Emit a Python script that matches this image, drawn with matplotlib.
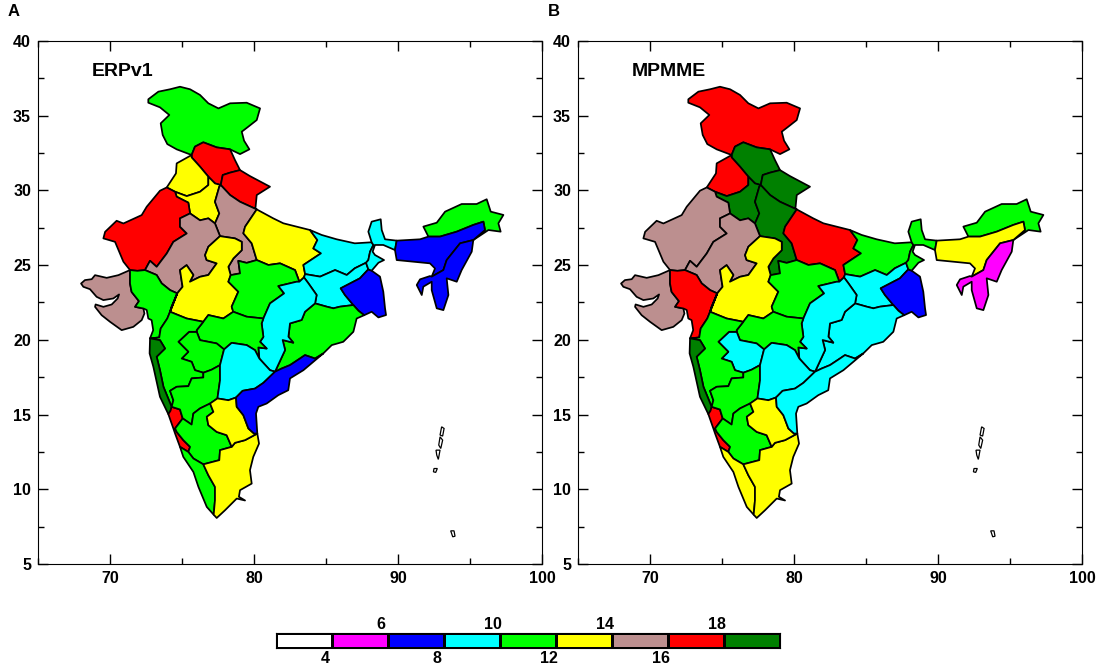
import matplotlib
matplotlib.use("Agg")
import matplotlib.pyplot as plt
from matplotlib.collections import PolyCollection
from matplotlib.colors import BoundaryNorm, ListedColormap
from matplotlib.ticker import MultipleLocator

plt.rcParams['font.family'] = ['Liberation Sans', 'DejaVu Sans']

# colour scale
levels = [2, 4, 6, 8, 10, 12, 14, 16, 18, 20]
colors = ['#ffffff', '#ff00ff', '#0000ff', '#00ffff', '#00ff00',
          '#ffff00', '#bc8f8f', '#ff0000', '#008000']

# borders between the subdivisions, (lon, lat)
jk_outer = [(75.67, 32.37), (74.63, 32.75), (73.98, 33.10), (73.66, 33.71), (73.52, 34.49), (74.12, 35.05),
            (73.47, 35.56), (72.66, 35.87), (72.66, 36.10), (73.36, 36.61), (74.17, 36.77), (74.86, 36.94),
            (75.56, 36.77), (76.25, 36.39), (76.83, 35.83), (77.53, 35.49), (78.34, 35.83), (79.49, 35.87),
            (80.42, 35.49), (80.19, 34.71), (79.61, 34.27), (79.15, 33.93), (79.31, 33.33), (79.68, 32.75),
            (79.03, 32.43), (78.34, 32.75)]
jk_hp = [(78.34, 32.75), (77.41, 32.88), (76.48, 33.22), (75.90, 32.93), (75.67, 32.37)]
hp_east = [(78.34, 32.75), (78.68, 32.03), (79.03, 31.36)]
hp_uk = [(79.03, 31.36), (78.34, 31.19), (77.83, 31.03), (77.69, 30.36)]
hp_hcd = [(77.69, 30.36), (77.29, 30.47), (76.83, 30.92)]
hp_pb = [(76.83, 30.92), (76.25, 31.59), (75.67, 32.21), (75.67, 32.37)]
pb_west = [(75.67, 32.37), (74.63, 31.81), (74.58, 31.14), (73.94, 30.20)]
pb_wrj = [(73.94, 30.20), (74.52, 29.91)]
pb_hcd = [(74.52, 29.91), (75.33, 29.62), (76.25, 29.91), (76.83, 30.36), (76.83, 30.92)]
uk_outer = [(79.03, 31.36), (79.72, 30.96), (81.11, 30.25), (80.19, 29.69), (80.10, 28.80), (80.19, 28.73)]
uk_wup = [(77.69, 30.36), (78.34, 29.69), (79.03, 29.24), (80.19, 28.73)]
hcd_wup = [(77.69, 30.36), (77.59, 30.25), (77.29, 29.24), (77.59, 28.46), (77.29, 27.79)]
wrj_hcd = [(75.56, 28.46), (75.44, 29.18), (74.63, 29.58), (74.52, 29.91)]
hcd_erj = [(75.56, 28.46), (76.25, 28.0), (76.83, 28.13), (77.29, 27.79)]
wrj_outer = [(73.94, 30.20), (73.47, 29.98), (72.55, 28.91), (72.20, 28.35), (70.93, 27.79), (70.46, 27.97),
             (69.66, 27.23), (69.54, 26.79), (70.35, 26.56), (70.93, 25.23), (71.39, 24.67)]
wrj_gjr = [(71.39, 24.67), (71.90, 24.62), (72.43, 24.67)]
wrj_erj = [(72.43, 24.67), (72.78, 25.29), (73.24, 24.89), (73.94, 25.78), (74.40, 26.56), (75.33, 27.12),
           (74.86, 27.57), (74.86, 28.13), (75.56, 28.46)]
wup_erj = [(77.29, 27.79), (77.47, 27.35), (77.64, 26.94)]
wup_wmp = [(77.64, 26.94), (78.68, 26.79), (79.15, 26.56), (79.15, 26.0), (78.57, 25.45), (78.22, 24.89),
           (78.38, 24.33)]
wup_emp = [(78.38, 24.33), (79.03, 24.45), (78.91, 25.29), (79.49, 25.15), (80.19, 25.34)]
wup_eup = [(80.19, 28.73), (79.38, 27.57), (79.26, 27.13), (79.84, 26.46), (80.19, 25.34)]
erj_wmp = [(77.64, 26.94), (76.83, 26.23), (76.60, 25.67), (76.71, 25.34), (77.41, 25.12), (76.83, 24.34),
           (76.25, 24.22), (75.55, 23.89), (75.79, 24.34), (75.32, 25.0), (74.86, 24.67), (75.04, 23.55),
           (74.67, 23.11)]
erj_gjr = [(72.43, 24.67), (73.24, 24.34), (73.59, 23.78), (74.17, 23.33), (74.67, 23.11)]
sk_outer = [(71.39, 24.67), (70.58, 24.33), (69.77, 24.15), (68.96, 24.33), (68.73, 24.06), (68.26, 24.0),
            (67.99, 23.77), (68.15, 23.55), (68.61, 23.39), (69.07, 22.88), (69.54, 22.66), (70.23, 22.77),
            (70.63, 23.04), (70.53, 22.77), (70.12, 22.37), (69.54, 22.21), (69.0, 22.37), (68.96, 22.21),
            (69.42, 21.65), (70.0, 21.21), (70.81, 20.65), (71.62, 20.87), (72.2, 21.32), (72.39, 21.76),
            (72.32, 22.10)]
sk_gjr = [(72.32, 22.10), (71.74, 22.21), (72.01, 22.59), (71.5, 23.21), (71.39, 23.77), (71.39, 24.67)]
gjr_coast = [(72.32, 22.10), (72.55, 22.0), (72.66, 21.43), (72.89, 21.32), (73.0, 20.65), (72.78, 20.10)]
gjr_wmp = [(74.67, 23.11), (74.28, 22.22), (74.17, 21.88)]
gjr_mar = [(74.17, 21.88), (73.98, 21.43), (73.52, 20.76), (73.42, 20.16), (72.78, 20.10)]
wmp_mar = [(74.17, 21.88), (75.32, 21.43), (76.48, 21.21)]
wmp_vid = [(76.48, 21.21), (76.83, 21.66), (77.87, 21.43), (78.56, 21.88)]
wmp_emp = [(78.56, 21.88), (78.45, 22.22), (78.91, 23.22), (78.22, 23.89), (78.38, 24.33)]
emp_vid = [(78.56, 21.88), (79.49, 21.55), (80.65, 21.43)]
emp_chh = [(80.65, 21.43), (81.11, 22.44), (82.09, 23.11), (81.69, 23.6), (82.96, 23.89), (83.15, 23.89)]
eup_nepal = [(80.19, 28.73), (81.34, 28.13), (82.04, 27.80), (83.89, 27.35)]
eup_bih = [(83.89, 27.35), (84.40, 26.68), (84.12, 26.12), (84.65, 25.79), (83.43, 25.01), (83.55, 24.4)]
eup_jh = [(83.55, 24.4), (83.47, 24.18)]
eup_chh = [(83.47, 24.18), (83.15, 23.89)]
eup_emp = [(83.15, 23.89), (82.85, 24.67), (81.81, 25.12), (81.0, 25.01), (80.19, 25.34)]
jh_chh = [(83.47, 24.18), (83.78, 23.78), (84.35, 23.0), (84.24, 22.44)]
chh_odi = [(84.24, 22.44), (83.54, 21.88), (83.31, 21.33), (82.50, 21.10), (82.39, 20.21), (82.73, 19.81),
           (81.99, 19.99), (82.16, 19.32), (81.46, 17.87)]
odi_cap = [(81.46, 17.87), (81.92, 18.08), (82.5, 18.31), (83.19, 18.75), (83.54, 18.98), (84.24, 18.75),
           (84.81, 19.09)]
odi_coast = [(84.81, 19.09), (85.4, 19.65), (86.2, 19.87), (86.9, 20.54), (87.13, 21.43), (87.65, 21.65)]
cap_coast = [(84.81, 19.09), (84.12, 18.53), (83.43, 17.97), (82.5, 17.42), (82.38, 16.63), (81.69, 16.3),
             (80.88, 15.74), (80.30, 15.52), (80.14, 15.07), (80.23, 13.73)]
cap_tel = [(81.46, 17.87), (80.65, 17.12), (80.07, 16.74), (79.21, 16.59), (78.75, 16.14)]
rys_cap = [(78.75, 16.14), (78.8, 15.52), (79.26, 14.96), (79.61, 14.07), (80.0, 13.73), (80.23, 13.73)]
vid_chh = [(80.65, 21.43), (80.53, 21.10), (80.65, 20.20), (80.42, 19.87), (80.88, 19.42), (80.3, 19.49),
           (80.37, 18.75)]
chh_tel = [(80.37, 18.75), (81.11, 17.97), (81.46, 17.87)]
vid_tel = [(80.37, 18.75), (80.07, 19.31), (79.49, 19.65), (78.45, 19.80), (77.92, 19.36)]
tel_mrw = [(77.92, 19.36), (77.64, 18.31)]
tel_nik = [(77.64, 18.31), (77.64, 17.30), (77.46, 16.08)]
tel_rys = [(77.46, 16.08), (78.22, 15.96), (78.75, 16.14)]
vid_mrw = [(77.92, 19.36), (77.41, 19.76), (76.83, 19.87), (76.25, 19.98), (76.02, 20.54)]
vid_mar = [(76.02, 20.54), (76.02, 20.65), (76.48, 21.21)]
mrw_mar = [(76.02, 20.54), (75.49, 20.54), (74.75, 19.87), (75.44, 19.2), (74.98, 18.75), (75.67, 18.53),
           (75.9, 17.97), (76.48, 17.8)]
mrw_nik = [(76.48, 17.8), (77.05, 18.0), (77.64, 18.31)]
mar_nik = [(76.48, 17.8), (76.48, 17.48), (75.67, 17.42), (75.44, 16.9), (74.63, 16.86), (74.17, 16.59),
           (74.40, 15.96), (74.28, 15.52)]
kon_mar = [(72.78, 20.10), (73.47, 19.98), (73.82, 19.42), (73.24, 18.87), (73.47, 17.97), (73.71, 16.86),
           (74.28, 15.52)]
kon_coast = [(72.78, 20.10), (72.75, 19.09), (73.01, 18.2), (73.47, 16.19), (74.05, 15.03)]
kon_ck = [(74.28, 15.52), (74.2, 15.25), (74.05, 15.03)]
ck_nik = [(74.28, 15.52), (74.86, 15.34), (75.05, 14.74)]
ck_sik = [(75.05, 14.74), (74.52, 14.07), (74.63, 13.84), (75.09, 13.29), (75.56, 12.84), (75.44, 12.50)]
ck_coast = [(74.05, 15.03), (74.4, 14.07), (74.52, 13.73), (74.86, 12.84)]
ck_ker = [(74.86, 12.84), (75.44, 12.50)]
ker_sik = [(75.44, 12.50), (75.79, 12.06), (76.48, 11.67)]
ker_coast = [(74.86, 12.84), (75.09, 12.17), (75.79, 11.16), (76.14, 10.16), (76.72, 8.82), (77.2, 8.3)]
ker_tn = [(76.48, 11.67), (76.83, 10.94), (77.29, 10.16), (77.29, 9.27), (77.2, 8.3)]
tn_coast = [(77.2, 8.3), (77.41, 8.08), (77.99, 8.6), (78.8, 9.38), (79.38, 9.25), (78.95, 9.5), (79.03, 9.94),
            (79.84, 10.38), (79.72, 11.28), (79.95, 12.17), (80.35, 13.06), (80.23, 13.73)]
tn_sik = [(76.48, 11.67), (77.59, 11.95), (77.64, 12.62), (78.45, 12.84)]
tn_rys = [(78.45, 12.84), (78.68, 13.11), (79.38, 13.29), (80.23, 13.73)]
nik_rys = [(77.46, 16.08), (76.95, 15.74)]
nik_sik = [(76.95, 15.74), (76.25, 15.41), (75.79, 15.07), (75.67, 14.33), (75.05, 14.74)]
sik_rys = [(76.95, 15.74), (77.18, 15.18), (76.72, 14.85), (76.83, 14.29), (77.41, 13.84), (78.1, 13.62),
           (78.45, 12.84)]
bih_north = [(83.89, 27.35), (84.7, 27.02), (85.74, 26.73), (87.0, 26.46), (88.17, 26.53)]
bih_shwb = [(88.17, 26.53), (88.29, 26.35), (88.06, 25.9), (87.94, 25.34), (87.78, 25.16)]
bih_jh = [(83.55, 24.4), (84.59, 24.23), (85.63, 24.67), (86.44, 24.34), (87.0, 24.79), (87.78, 25.16)]
jh_shwb = [(87.78, 25.16), (87.94, 24.72)]
jh_gwb = [(87.94, 24.72), (87.36, 24.12), (86.02, 23.45), (86.32, 23.0), (86.9, 22.33)]
odi_jh = [(84.24, 22.44), (85.05, 22.22), (85.51, 22.11), (85.97, 22.22), (86.9, 22.33)]
odi_gwb = [(86.9, 22.33), (87.25, 21.95), (87.65, 21.65)]
gwb_outer = [(87.65, 21.65), (88.17, 21.88), (88.64, 21.5), (89.17, 21.66), (89.1, 22.11), (88.98, 23.22),
             (88.75, 24.23), (88.17, 24.63)]
gwb_shwb = [(88.17, 24.63), (87.94, 24.72)]
shwb_north = [(88.17, 26.53), (87.94, 27.24), (88.17, 27.91), (88.8, 28.07), (88.87, 27.35), (89.1, 26.73),
              (89.91, 26.64)]
shwb_asm = [(89.91, 26.64), (89.79, 26.01)]
shwb_south = [(89.79, 26.01), (88.98, 26.35), (88.4, 26.35), (88.24, 25.9), (88.4, 25.68), (89.03, 25.34),
              (88.64, 25.16), (88.17, 24.63)]
asm_nw = [(89.91, 26.64), (91.53, 26.73), (92.11, 26.91)]
arp_asm = [(92.11, 26.91), (92.92, 26.91), (94.08, 27.24), (95.23, 27.69), (95.93, 27.91), (96.04, 27.35),
           (95.23, 26.68)]
arp_outer = [(92.11, 26.91), (91.76, 27.58), (92.69, 27.84), (93.27, 28.58), (94.42, 29.09), (95.46, 29.09),
             (96.16, 29.41), (96.44, 28.58), (97.32, 28.36), (96.97, 27.80), (97.13, 27.24), (96.28, 27.35),
             (95.23, 26.68)]
asm_nmmt = [(95.23, 26.68), (94.31, 26.46), (93.38, 25.34), (93.15, 24.67), (92.34, 24.23)]
asm_south = [(92.34, 24.23), (92.57, 24.78), (92.22, 25.12), (89.91, 25.34), (89.79, 26.01)]
nmmt_outer = [(95.23, 26.68), (95.12, 25.9), (94.42, 24.67), (94.08, 23.89), (93.38, 24.12), (93.5, 23.0),
              (93.15, 21.99), (92.69, 22.11), (92.34, 23.33), (92.34, 23.89), (91.76, 23.56), (91.65, 23.0),
              (91.30, 23.67), (91.53, 24.05), (92.22, 24.27), (92.34, 24.23)]

# islands, outline only
andaman_n = [(93.03, 14.18), (93.2, 14.07), (93.1, 13.56), (92.92, 13.63)]
andaman_m = [(92.92, 13.51), (93.1, 13.29), (92.97, 12.73), (92.83, 12.96)]
andaman_s = [(92.64, 12.62), (92.92, 12.62), (92.8, 12.0), (92.69, 12.29)]
andaman_l = [(92.5, 11.39), (92.73, 11.39), (92.62, 11.13), (92.46, 11.17)]
nicobar = [(93.66, 7.22), (93.89, 7.22), (93.96, 6.86), (93.8, 6.82)]
islands = [andaman_n, andaman_m, andaman_s, andaman_l, nicobar]


def r(arc):
    return arc[::-1]


def ring(*arcs):
    pts = []
    for arc in arcs:
        pts += arc
    return pts


subdivisions = [
    ring(jk_outer, jk_hp),
    ring(r(jk_hp), hp_east, hp_uk, hp_hcd, hp_pb),
    ring(uk_outer, r(uk_wup), r(hp_uk)),
    ring(pb_west, pb_wrj, pb_hcd, hp_pb),
    ring(r(pb_hcd), r(wrj_hcd), hcd_erj, r(hcd_wup), hp_hcd),
    ring(uk_wup, wup_eup, r(wup_emp), r(wup_wmp), r(wup_erj), r(hcd_wup)),
    ring(eup_nepal, eup_bih, eup_jh, eup_chh, eup_emp, r(wup_eup)),
    ring(wrj_outer, wrj_gjr, wrj_erj, wrj_hcd, r(pb_wrj)),
    ring(wrj_erj, hcd_erj, wup_erj, erj_wmp, r(erj_gjr)),
    ring(sk_outer, sk_gjr),
    ring(r(sk_gjr), gjr_coast, r(gjr_mar), r(gjr_wmp), r(erj_gjr), r(wrj_gjr)),
    ring(wup_wmp, r(wmp_emp), r(wmp_vid), r(wmp_mar), gjr_wmp, r(erj_wmp)),
    ring(wup_emp, r(eup_emp), r(emp_chh), r(emp_vid), wmp_emp),
    ring(bih_north, bih_shwb, r(bih_jh), r(eup_bih)),
    ring(bih_jh, jh_shwb, jh_gwb, r(odi_jh), r(jh_chh), r(eup_jh)),
    ring(odi_gwb, gwb_outer, gwb_shwb, jh_gwb),
    ring(shwb_north, shwb_asm, shwb_south, gwb_shwb, r(jh_shwb), r(bih_shwb)),
    ring(arp_outer, r(arp_asm)),
    ring(asm_nw, arp_asm, asm_nmmt, asm_south, r(shwb_asm)),
    ring(nmmt_outer, r(asm_nmmt)),
    ring(odi_jh, odi_gwb, r(odi_coast), r(odi_cap), r(chh_odi)),
    ring(emp_chh, r(eup_chh), jh_chh, chh_odi, r(chh_tel), r(vid_chh)),
    ring(emp_vid, vid_chh, vid_tel, vid_mrw, vid_mar, wmp_vid),
    ring(r(vid_mrw), tel_mrw, r(mrw_nik), r(mrw_mar)),
    ring(wmp_mar, r(vid_mar), mrw_mar, mar_nik, r(kon_mar), r(gjr_mar)),
    ring(kon_mar, kon_ck, r(kon_coast)),
    ring(ck_nik, ck_sik, r(ck_ker), r(ck_coast), r(kon_ck)),
    ring(mrw_nik, tel_nik, nik_rys, nik_sik, r(ck_nik), r(mar_nik)),
    ring(r(nik_sik), sik_rys, r(tn_sik), r(ker_sik), r(ck_sik)),
    ring(ck_ker, ker_sik, ker_tn, r(ker_coast)),
    ring(tn_sik, tn_rys, r(tn_coast), r(ker_tn)),
    ring(r(tel_nik), r(tel_mrw), r(vid_tel), chh_tel, cap_tel, r(tel_rys)),
    ring(tel_rys, rys_cap, r(tn_rys), r(sik_rys), r(nik_rys)),
    ring(odi_cap, cap_coast, r(rys_cap), r(cap_tel)),
]

# order as in subdivisions: JK HP UK PB HCD WUP EUP WRJ ERJ SK GJR WMP EMP BIH JH GWB SHWB
# ARP ASM NMMT ODI CHH VID MRW MAR KON CK NIK SIK KER TN TEL RYS CAP
erpv1_values = [11, 17, 17, 13, 13, 15, 13, 17, 15, 15, 11, 13, 11, 9, 9, 7, 9,
                11, 7, 7, 11, 9, 11, 11, 11, 19, 17, 11, 11, 11, 13, 9, 13, 7]
mpmme_values = [17, 19, 19, 17, 19, 19, 17, 15, 15, 15, 17, 13, 11, 11, 9, 7, 11,
                11, 13, 5, 9, 9, 11, 9, 11, 19, 17, 11, 11, 13, 13, 9, 13, 9]

panel_titles = ['ERPv1', 'MPMME']
panel_letters = ['A', 'B']
panel_values = [erpv1_values, mpmme_values]
cbar_labels = ['4', '6', '8', '10', '12', '14', '16', '18']

W, H = 1097, 668
cmap = ListedColormap(colors)
norm = BoundaryNorm(levels, cmap.N)

fig = plt.figure(figsize=(W / 100, H / 100), dpi=100)

for left, title, letter, values in zip([38, 578], panel_titles, panel_letters, panel_values):
    ax = fig.add_axes([left / W, 1 - 564 / H, 504 / W, 523 / H])
    polys = PolyCollection(subdivisions, array=values, cmap=cmap, norm=norm,
                           edgecolors='black', linewidths=1.25)
    ax.add_collection(polys)
    for isl in islands:
        ax.fill(*zip(*isl), facecolor='white', edgecolor='black', linewidth=0.9)
    ax.set_xlim(65, 100)
    ax.set_ylim(5, 40)
    ax.xaxis.set_major_locator(MultipleLocator(10))
    ax.xaxis.set_minor_locator(MultipleLocator(5))
    ax.yaxis.set_major_locator(MultipleLocator(5))
    ax.yaxis.set_minor_locator(MultipleLocator(2.5))
    ax.tick_params(which='major', direction='in', length=7, width=1, top=True, right=True,
                   labelsize=11.5, pad=5)
    ax.tick_params(which='minor', direction='in', length=4, width=1, top=True, right=True)
    for lab in ax.get_xticklabels() + ax.get_yticklabels():
        lab.set_fontweight('bold')
    ax.text(0.107, 0.941, title, transform=ax.transAxes, fontsize=14, fontweight='bold',
            ha='left', va='center')
    fig.text((left - 30) / W, 1 - 12 / H, letter, fontsize=12, fontweight='bold', ha='left', va='center')

# colour bar
cax = fig.add_axes([276 / W, 1 - 648 / H, 504 / W, 15 / H])
cax.pcolormesh(levels, [0, 1], [[(a + b) / 2 for a, b in zip(levels[:-1], levels[1:])]],
               cmap=cmap, norm=norm, edgecolors='black', linewidth=0.8)
cax.set_xticks([])
cax.set_yticks([])
for i, lab in enumerate(cbar_labels):
    above = i % 2 == 1
    cax.annotate(lab, (levels[i + 1], 1 if above else 0), xytext=(-5, 1 if above else -2),
                 textcoords='offset points', ha='center', va='bottom' if above else 'top',
                 fontsize=11.5, fontweight='bold', annotation_clip=False)

fig.savefig('out.png', dpi=100)
